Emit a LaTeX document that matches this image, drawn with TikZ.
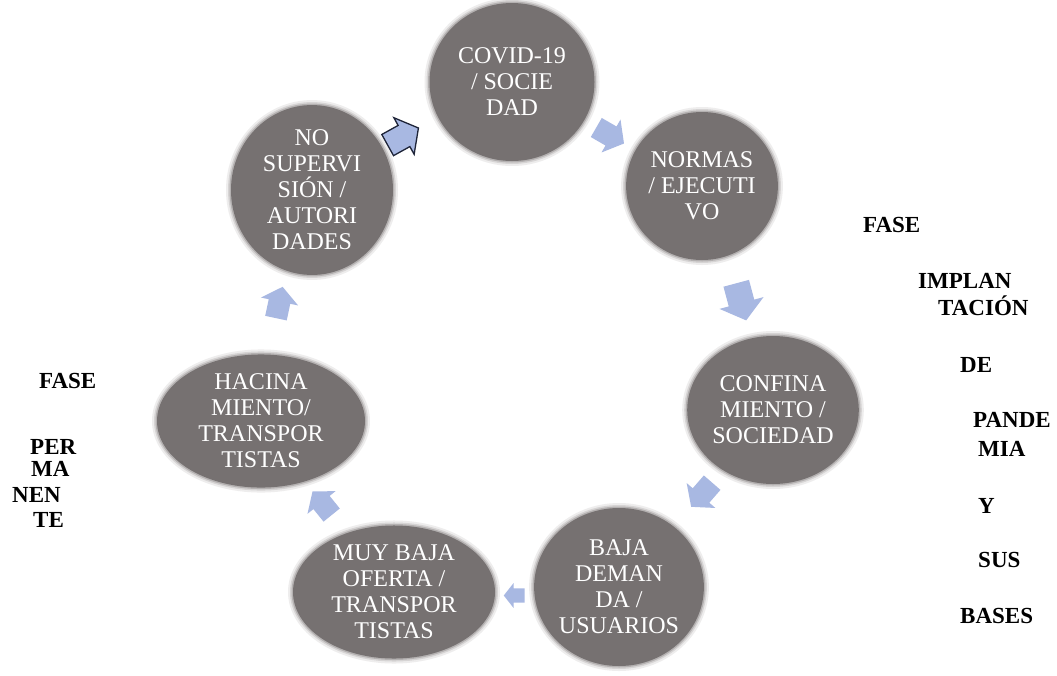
\documentclass[tikz,border=0pt]{standalone}
\usepackage{fontspec}
\setmainfont{Liberation Serif}
\usetikzlibrary{shapes.geometric,calc}
\definecolor{ellgray}{RGB}{118,113,113}
\definecolor{arrblue}{RGB}{168,184,226}
\definecolor{arredge}{RGB}{30,36,56}
\begin{document}
\begin{tikzpicture}[x=1pt,y=-1pt,
  bub/.style={ellipse, fill=ellgray, text=white, align=center, inner sep=0pt,
    font=\fontsize{24}{26}\selectfont,
    preaction={draw=ellgray, draw opacity=0.12, line width=10pt},
    preaction={draw=ellgray, draw opacity=0.2, line width=6pt},
    preaction={draw=ellgray, draw opacity=0.35, line width=3pt}},
  cycarrow/.pic={\path[pic actions] (-17,-11)--(0,-11)--(0,-19)--(15,0)--(0,19)--(0,11)--(-17,11)--cycle;},
  arr/.style={fill=arrblue},
  side/.style={anchor=base west, inner sep=0pt, font=\fontsize{23}{25}\selectfont\bfseries}]
\useasboundingbox (0,0) rectangle (1057,675);
\fill[white] (0,0) rectangle (1057,675);

\node[bub, minimum width=165pt, minimum height=158pt] (covid) at (512,82) {COVID-19\\/ SOCIE\\DAD};
\node[bub, minimum width=144pt, minimum height=148pt] (normas) at (702,186) {NORMAS\\/ EJECUTI\\VO};
\node[bub, minimum width=146pt, minimum height=148pt] (confina) at (773,410) {CONFINA\\MIENTO /\\SOCIEDAD};
\node[bub, minimum width=151pt, minimum height=158pt] (baja) at (619,587) {BAJA\\DEMAN\\DA /\\USUARIOS};
\node[bub, minimum width=202pt, minimum height=130pt] (muy) at (394,592) {MUY BAJA\\OFERTA /\\TRANSPOR\\TISTAS};
\node[bub, minimum width=208pt, minimum height=128pt] (hacina) at (261,421) {HACINA\\MIENTO/\\TRANSPOR\\TISTAS};
\node[bub, minimum width=162pt, minimum height=162pt] (nosup) at (312,190) {NO\\SUPERVI\\SIÓN /\\AUTORI\\DADES};

\pic[arr, draw=arredge, line width=1.3pt, rotate=29, scale=1.1] (a1) at ($(nosup)!0.5!(covid)+(-8,0)$) {cycarrow};
\pic[arr, rotate=-30] (a2) at ($(covid)!0.5!(normas)+(4,2)$) {cycarrow};
\pic[arr, rotate=-75, scale=1.2] (a3) at ($(normas)!0.5!(confina)+(4,5)$) {cycarrow};
\pic[arr, rotate=-131] (a4) at ($(confina)!0.5!(baja)+(5,-3)$) {cycarrow};
\pic[arr, rotate=180, scale=0.65] (a5) at ($(baja)!0.5!(muy)+(7,6)$) {cycarrow};
\pic[arr, rotate=129, scale=0.95] (a6) at ($(muy)!0.5!(hacina)+(-6,-4)$) {cycarrow};
\pic[arr, rotate=78] (a7) at ($(hacina)!0.5!(nosup)+(-7,-4)$) {cycarrow};

\node[side] (r1) at (863,232) {FASE};
\node[side] (r2) at (918,288) {IMPLAN};
\node[side] (r3) at (938,315) {TACIÓN};
\node[side] (r4) at (960,372) {DE};
\node[side] (r5) at (973,427) {PANDE};
\node[side] (r6) at (978,456) {MIA};
\node[side] (r7) at (978,513) {Y};
\node[side] (r8) at (978,567) {SUS};
\node[side] (r9) at (960,623) {BASES};

\node[side] (l1) at (39,388) {FASE};
\node[side] (l2) at (30,454) {PER};
\node[side] (l3) at (31,476) {MA};
\node[side] (l4) at (12,502) {NEN};
\node[side] (l5) at (33,527) {TE};
\end{tikzpicture}
\end{document}
